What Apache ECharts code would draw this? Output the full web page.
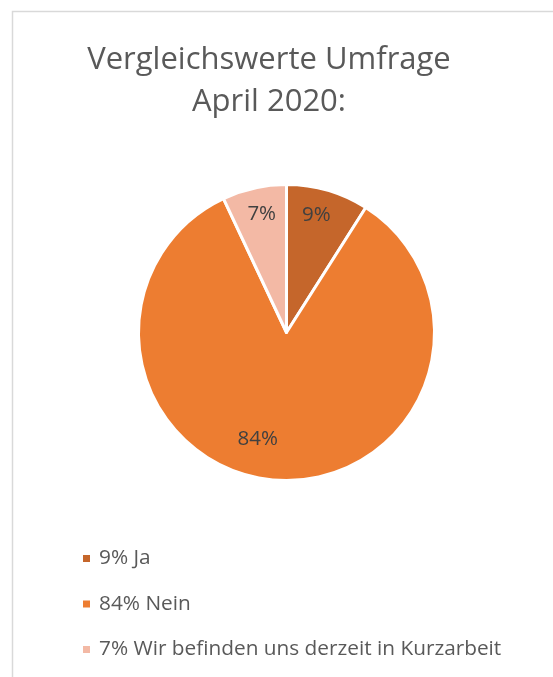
<!DOCTYPE html>
<html>
<head>
<meta charset="utf-8">
<script src="https://cdn.jsdelivr.net/npm/echarts@6/dist/echarts.min.js"></script>
<style>
  html, body { margin: 0; padding: 0; background: #fff; }
  #chart { width: 553px; height: 677px; }
</style>
</head>
<body>
<div id="chart"></div>
<script>
// Survey answers (April 2020), share in percent
const categories = ['Ja', 'Nein', 'Wir befinden uns derzeit in Kurzarbeit'];
const values = [9, 84, 7];
const colors = ['#C5662B', '#ED7D31', '#F3B9A5'];
const titleLines = ['Vergleichswerte Umfrage', 'April 2020:'];

const FONT = '"Open Sans"';

const legendNames = categories.map((c, i) => values[i] + '% ' + c);

const pieData = legendNames.map((name, i) => ({
  name: name,
  value: values[i],
  itemStyle: { color: colors[i] }
}));

// Transparent overlay ring that carries the percentage labels near the rim;
// small nudges keep them clear of the slice borders
const labelNudges = [[-5, 3], [-21, -18], [2.5, 4]];
const labelData = legendNames.map((name, i) => ({
  name: name,
  value: values[i],
  label: { offset: labelNudges[i] }
}));

const chart = echarts.init(document.getElementById('chart'), null, { renderer: 'canvas' });

chart.setOption({
  animation: false,
  backgroundColor: '#ffffff',
  graphic: [{
    type: 'rect',
    shape: { x: 12.5, y: 11.5, width: 600, height: 720 },
    style: { fill: 'none', stroke: '#D9D9D9', lineWidth: 1.5 },
    silent: true,
    z: -1
  }],
  title: {
    text: titleLines.join('\n'),
    left: 264,
    textAlign: 'center',
    top: 34,
    textStyle: {
      fontFamily: FONT,
      fontWeight: 'normal',
      fontSize: 31,
      lineHeight: 42,
      color: '#595959'
    }
  },
  legend: {
    orient: 'vertical',
    left: 76,
    top: 543,
    itemWidth: 9,
    itemHeight: 9,
    itemGap: 24.5,
    icon: 'rect',
    data: legendNames,
    textStyle: {
      fontFamily: FONT,
      fontSize: 20.8,
      lineHeight: 21,
      color: '#595959',
      padding: [0, 0, 0, 3]
    }
  },
  series: [{
    type: 'pie',
    center: [286.5, 332.5],
    radius: [0, 148],
    startAngle: 90,
    clockwise: true,
    data: pieData,
    label: { show: false },
    labelLine: { show: false },
    itemStyle: { borderColor: '#ffffff', borderWidth: 3 },
    emphasis: { disabled: true }
  }, {
    type: 'pie',
    center: [286.5, 332.5],
    radius: [96, 148],
    startAngle: 90,
    clockwise: true,
    silent: true,
    data: labelData,
    itemStyle: { color: 'rgba(0,0,0,0)' },
    label: {
      show: true,
      position: 'inside',
      formatter: '{c}%',
      fontFamily: FONT,
      fontSize: 20.5,
      color: '#404040'
    },
    labelLine: { show: false },
    emphasis: { disabled: true },
    legendHoverLink: false
  }]
});
</script>
</body>
</html>
